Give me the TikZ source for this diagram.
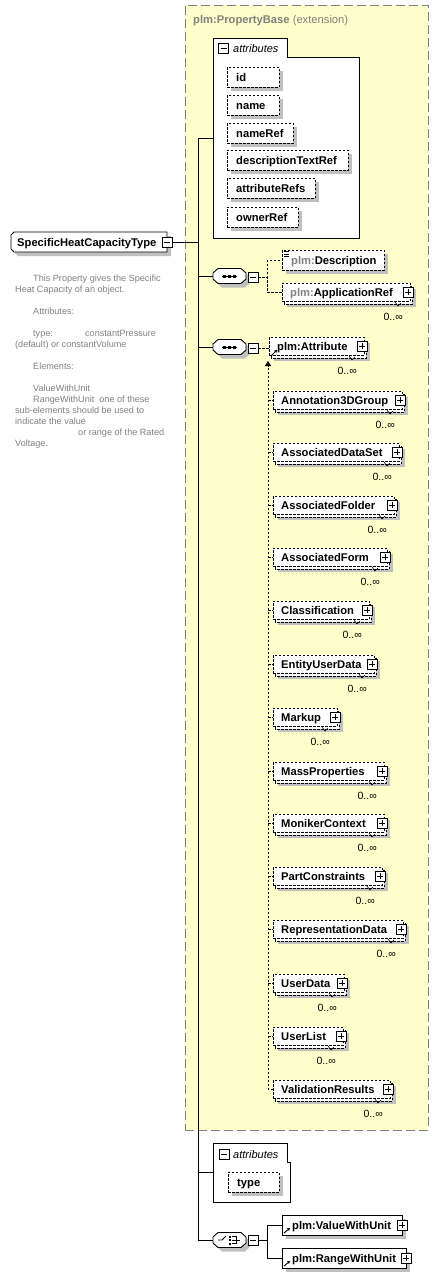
\documentclass[tikz,border=0pt]{standalone}
\usepackage{fontspec}
\setmainfont{Liberation Sans}
\usetikzlibrary{shapes.misc,arrows.meta}
\definecolor{ybg}{RGB}{255,255,204}
\definecolor{ybd}{RGB}{128,128,128}
\definecolor{shd}{RGB}{192,192,192}
\definecolor{gtx}{RGB}{128,128,128}
\begin{document}
\begin{tikzpicture}[x=1pt,y=-1pt,
  dbox/.style={draw=black, fill=white, line width=0.8pt, dash pattern=on 2.5pt off 1.5pt, inner sep=0pt},
  sbox/.style={draw=black, fill=white, line width=0.8pt, inner sep=0pt},
  dconn/.style={draw=black, line width=0.8pt, dash pattern=on 2.5pt off 1.5pt},
  conn/.style={draw=black, line width=0.9pt},
  lbl/.style={inner sep=0pt, font=\fontsize{11.2pt}{13pt}\selectfont\bfseries},
  mult/.style={inner sep=0pt, font=\fontsize{10.5pt}{12pt}\selectfont},
  ital/.style={inner sep=0pt, font=\fontsize{11pt}{13pt}\selectfont\itshape},
  pmbox/.style={draw=black, fill=white, minimum size=10pt, inner sep=0pt, line width=0.9pt},
  minusi/.style={pmbox, path picture={\draw[line width=0.9pt] ([xshift=2pt]path picture bounding box.west) -- ([xshift=-2pt]path picture bounding box.east);}},
  plusi/.style={pmbox, path picture={\draw[line width=0.9pt] ([xshift=2pt]path picture bounding box.west) -- ([xshift=-2pt]path picture bounding box.east); \draw[line width=0.9pt] ([yshift=-2pt]path picture bounding box.north) -- ([yshift=2pt]path picture bounding box.south);}},
  octnode/.style={inner sep=0pt, minimum width=33pt, minimum height=15pt},
  refarrow/.style={line width=0.9pt, -{Stealth[length=3pt,width=3.5pt]}},
  ext/.style={draw=ybd, fill=ybg, line width=0.9pt, dash pattern=on 9pt off 4pt, inner sep=0pt}
]
\useasboundingbox (0,0) rectangle (438,1278);

% macros
\newcommand\octp[2]{({#1-11.5},{#2-7.5}) -- ({#1+11.5},{#2-7.5}) -- ({#1+16.5},{#2-3}) -- ({#1+16.5},{#2+3}) -- ({#1+11.5},{#2+7.5}) -- ({#1-11.5},{#2+7.5}) -- ({#1-16.5},{#2+3}) -- ({#1-16.5},{#2-3}) -- cycle}
\newcommand\octo[3]{% name, cx, cy
  \fill[shd] \octp{#2+4}{#3+4};
  \filldraw[draw=black, fill=white, line width=0.9pt] \octp{#2}{#3};
  \node[octnode] (#1) at (#2,#3) {};
}
\newcommand\mel[5]{% name, left, center y, right, label (multiple occurrence)
  \fill[shd] ({#2+5},{#3-9+6}) rectangle ({#4+6},{#3+9+6});
  \draw[dbox] ({#2+2},{#3-9+3}) rectangle ({#4+2},{#3+9+3});
  \node[dbox, anchor=north west, minimum width={#4-#2}, minimum height=18pt] (#1) at (#2,{#3-9}) {};
  \node[lbl, anchor=base west] (#1-t) at ({#2+8},{#3+4}) {#5};
  \node[plusi] (#1-p) at ({#4-2},{#3}) {};
  \draw[line width=0.6pt] ({#4-15},{#3+10}) -- ({#4-12},{#3+14}) -- ({#4-9},{#3+11});
  \node[mult, anchor=base east] (#1-m) at ({#4-7},{#3+28}) {0..∞};
}
\newcommand\att[4]{% name, top, right, label
  \fill[shd] (231,{#2+4}) rectangle ({#3+4},{#2+24});
  \node[dbox, anchor=north west, minimum width={#3-227}, minimum height=20pt] (#1) at (227,#2) {};
  \node[lbl, anchor=base west] (#1-t) at (236,{#2+14}) {#4};
}
\newcommand\sel[5]{% name, left, center, right, label (choice element)
  \fill[shd] ({#2+4},{#3-10+4}) rectangle ({#4+4},{#3+10+4});
  \node[sbox, anchor=north west, minimum width={#4-#2}, minimum height=20pt] (#1) at (#2,{#3-10}) {};
  \node[lbl, anchor=base west] (#1-t) at ({#2+10},{#3+4}) {#5};
  \node[plusi] (#1-p) at (#4,#3) {};
  \draw[refarrow] ({#2+2},{#3+8}) -- ({#2+8},{#3+3});
}

% extension area
\node[ext, anchor=north west, minimum width=243pt, minimum height=1125pt] (ext) at (185,5) {};
\node[anchor=base west, inner sep=0pt, text=gtx, font=\fontsize{11.2pt}{13pt}\selectfont] (extt) at (193,23) {\textbf{plm:PropertyBase} (extension)};

% attributes group 1
\node[anchor=north west, minimum width=146pt, minimum height=200pt, inner sep=0pt] (att1) at (213,38) {};
\draw[sbox] (213,38) -- (287,38) -- (287,57) -- (359,57) -- (359,238) -- (213,238) -- cycle;
\node[minusi] (att1-m) at (223.5,48) {};
\node[ital, anchor=base west] (att1-t) at (233,52) {attributes};
\att{aid}{67}{279}{id}
\att{anm}{95}{279}{name}
\att{anr}{123}{293}{nameRef}
\att{adt}{150}{348}{descriptionTextRef}
\att{aar}{178}{315}{attributeRefs}
\att{aow}{207}{298}{ownerRef}

% main element
\fill[shd] (18,236) -- (171,236) -- (171,256) -- (18,256) -- (15,253) -- (15,239) -- cycle;
\filldraw[draw=black, fill=white, line width=0.9pt] (14,232) -- (167,232) -- (167,252) -- (14,252) -- (11,249) -- (11,235) -- cycle;
\node[inner sep=0pt, anchor=north west, minimum width=156pt, minimum height=20pt] (main) at (11,232) {};
\node[lbl, anchor=base west] (main-t) at (17,246) {SpecificHeatCapacityType};
\node[minusi] (main-m) at (167,242) {};

% documentation
\node[anchor=north west, inner sep=0pt, align=left, text=gtx, font=\fontsize{9.1pt}{11pt}\selectfont] (doc) at (15,274.5) {%
\hspace*{18pt}This Property gives the Specific\\
Heat Capacity of an object.\\[11pt]
\hspace*{18pt}Attributes:\\[11pt]
\hspace*{18pt}\makebox[52pt][l]{type:}constantPressure\\
(default) or constantVolume\\[11pt]
\hspace*{18pt}Elements:\\[11pt]
\hspace*{18pt}ValueWithUnit\\
\hspace*{18pt}RangeWithUnit\ \ one of these\\
sub-elements should be used to\\
indicate the value\\
\hspace*{63pt}or range of the Rated\\
Voltage.};

% trunk
\coordinate (tTop) at (198,138);
\coordinate (tBot) at (198,1240);

% sequence 1
\octo{seq1}{229.5}{276}
\draw[line width=0.9pt] (222,276) -- (237,276);
\foreach \dx in {-5,0,5} \fill (229.5+\dx-1.5,274.5) rectangle ++(3,3);
\node[minusi] (seq1-m) at (253,277) {};

\fill[shd] (286,254) rectangle (388,274);
\node[dbox, anchor=north west, minimum width=102pt, minimum height=20pt] (desc) at (282,250) {};
\node[lbl, anchor=base west] (desc-t) at (291,264) {\textcolor{gtx}{plm:}Description};
\foreach \yy in {251.5,254,256.5} \draw[line width=0.8pt] (284,\yy) -- (289,\yy);
\mel{apr}{282}{292}{410}{\textcolor{gtx}{plm:}ApplicationRef}
\draw[dconn] (seq1-m.east) -- ++(9,0) |- (desc.west);
\draw[dconn] (seq1-m.east) -- ++(9,0) |- (apr.west);

% sequence 2
\octo{seq2}{229.5}{347}
\draw[line width=0.9pt] (222,347) -- (237,347);
\foreach \dx in {-5,0,5} \fill (229.5+\dx-1.5,345.5) rectangle ++(3,3);
\node[minusi] (seq2-m) at (253,348) {};
\mel{attr}{269}{346}{364}{plm:Attribute}
\draw[refarrow] (271,356) -- (277,350);
\draw[dconn] (seq2-m.east) -- (seq2-m.east -| attr.west);

% substitution group members
\mel{a3d}{273}{400}{402}{Annotation3DGroup}
\mel{ads}{273}{452}{399}{AssociatedDataSet}
\mel{afo}{273}{505}{394}{AssociatedFolder}
\mel{afm}{273}{557}{387}{AssociatedForm}
\mel{cls}{273}{610}{369}{Classification}
\mel{eud}{273}{664}{374}{EntityUserData}
\mel{mkp}{273}{717}{337}{Markup}
\mel{msp}{273}{771}{384}{MassProperties}
\mel{mnk}{273}{823}{384}{MonikerContext}
\mel{pcs}{273}{876}{382}{PartConstraints}
\mel{rpd}{273}{929}{403}{RepresentationData}
\mel{usd}{273}{983}{344}{UserData}
\mel{usl}{273}{1036}{343}{UserList}
\mel{vlr}{273}{1089}{390}{ValidationResults}
\coordinate (subtop) at (268,361);
\draw[dconn, -{Triangle[length=5pt,width=6pt]}] (vlr.west) -| (subtop);
\foreach \n in {a3d,ads,afo,afm,cls,eud,mkp,msp,mnk,pcs,rpd,usd,usl}
  \draw[dconn] (subtop |- \n.west) -- (\n.west);

% attributes group 2
\node[anchor=north west, minimum width=77pt, minimum height=59pt, inner sep=0pt] (att2) at (213,1143) {};
\draw[sbox] (213,1143) -- (287,1143) -- (287,1162) -- (290,1162) -- (290,1202) -- (213,1202) -- cycle;
\node[minusi] (att2-m) at (224,1154) {};
\node[ital, anchor=base west] (att2-t) at (233,1158) {attributes};
\fill[shd] (232,1176) rectangle (283,1196);
\node[dbox, anchor=north west, minimum width=51pt, minimum height=20pt] (atype) at (228,1172) {};
\node[lbl, anchor=base west] (atype-t) at (237,1186) {type};

% choice
\octo{ch}{229.5}{1240}
\draw[line width=0.9pt] (218,1240) -- (222,1240) -- (226,1236);
\foreach \yy in {1236.5,1240,1243.5} \fill (228.5,\yy-1) rectangle ++(2,2);
\draw[line width=0.9pt] (232,1236.5) -- (236,1236.5) -- (236,1243.5) -- (232,1243.5);
\draw[line width=0.9pt] (232,1240) -- (240,1240);
\node[minusi] (ch-m) at (253,1240) {};
\sel{vwu}{282}{1225}{402}{plm:ValueWithUnit}
\sel{rwu}{282}{1258}{406}{plm:RangeWithUnit}
\draw[conn] (ch-m.east) -- ++(9,0) |- (vwu.west);
\draw[conn] (ch-m.east) -- ++(9,0) |- (rwu.west);

% trunk connectors
\draw[conn] (att1.west) -| (tBot) -- (ch.west);
\draw[conn] (main-m.east) -- (main-m.east -| tTop);
\draw[conn] (seq1.west) -- (seq1.west -| tTop);
\draw[conn] (seq2.west) -- (seq2.west -| tTop);
\draw[conn] (att2.west) -- (att2.west -| tTop);
\end{tikzpicture}
\end{document}
